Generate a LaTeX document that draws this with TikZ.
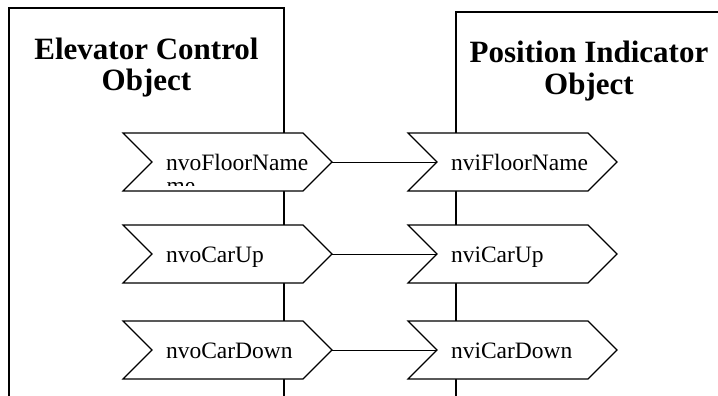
\documentclass[tikz,border=0pt]{standalone}
\usepackage{fontspec}
\setmainfont{Liberation Serif}
\usetikzlibrary{shapes.symbols}
\pgfdeclarelayer{background}
\pgfsetlayers{background,main}

\tikzset{
  port/.style={signal, signal from=west, signal to=east, signal pointer angle=90,
    draw, fill=white, minimum width=209pt, minimum height=58pt, inner sep=0pt,
    font=\fontsize{23.5}{27}\selectfont, text height=16pt, text depth=0pt},
  objtitle/.style={anchor=north, align=center, inner sep=0pt,
    font=\fontsize{31}{31.5}\selectfont\bfseries},
}
\newcommand{\portlabel}[1]{\makebox[123pt][l]{#1}}

\begin{document}
\begin{tikzpicture}[x=1pt, y=-1pt, line width=1.2pt]
    \useasboundingbox (0,0) rectangle (718,396);
    \clip (0,0) rectangle (718,396);

    % object boxes (open at the bottom)
    \draw (9,410) -- (9,8) -- (284,8) -- (284,410);
    \draw (456,410) -- (456,12) -- (722,12) -- (722,410);

    \node[objtitle] (ecTitle) at (146.5,37.3) {Elevator Control\\Object};
    \node[objtitle] (piTitle) at (589,40.7) {Position Indicator\\Object};

    % output variables
    \node[port] (nvoFloor) at (227.5,162) {\portlabel{nvoFloorName}};
    \node[port] (nvoUp)    at (227.5,254) {\portlabel{nvoCarUp}};
    \node[port] (nvoDown)  at (227.5,350) {\portlabel{nvoCarDown}};

    % input variables
    \node[port] (nviFloor) at (512.5,162) {\portlabel{nviFloorName}};
    \node[port] (nviUp)    at (512.5,254) {\portlabel{nviCarUp}};
    \node[port] (nviDown)  at (512.5,350) {\portlabel{nviCarDown}};

    % wrapped rest of the long name, cut off by the shape
    \begin{scope}
        \clip (150,182.5) rectangle (300,185);
        \node[anchor=base west, inner sep=0pt, font=\fontsize{23.5}{27}\selectfont]
            (nvoFloorWrap) at (166,193.5) {me};
    \end{scope}

    \begin{pgfonlayer}{background}
        \draw (nvoFloor.center) -- (nviFloor.center);
        \draw (nvoUp.center) -- (nviUp.center);
        \draw (nvoDown.center) -- (nviDown.center);
    \end{pgfonlayer}
\end{tikzpicture}
\end{document}
